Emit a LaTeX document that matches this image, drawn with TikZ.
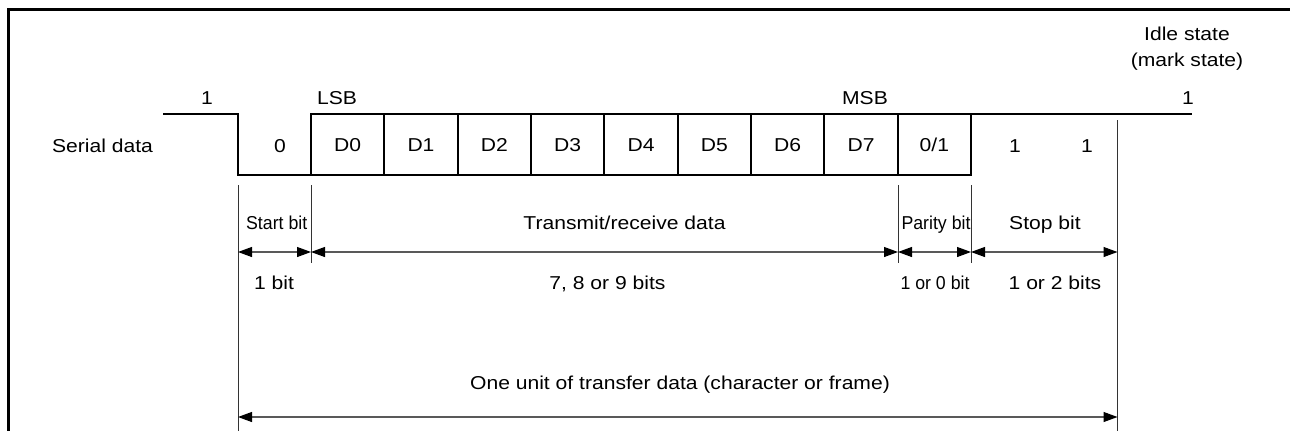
\documentclass[tikz,border=0pt]{standalone}
\usepackage{fontspec}
\setmainfont{Liberation Sans}[FakeStretch=1.13]
\newfontfamily\narrowfont{Liberation Sans}[FakeStretch=0.95]
\usetikzlibrary{arrows.meta}
\begin{document}
\begin{tikzpicture}[x=0.75pt,y=-0.75pt,
  lbl/.style={anchor=base, inner sep=0pt, font=\fontsize{14}{18.75}\selectfont},
  nlbl/.style={anchor=base, inner sep=0pt, font=\fontsize{14}{18.75}\selectfont\narrowfont},
  bitbox/.style={draw, line width=1.5pt, minimum width=55pt, minimum height=45.75pt,
    inner sep=0pt, outer sep=0pt, text height=10pt, text depth=0pt, font=\fontsize{14}{18.75}\selectfont},
  sig/.style={line width=1.5pt, line join=miter},
  guide/.style={line width=0.75pt, black!80},
  dim/.style={line width=0.8pt, black!65,
    {Triangle[length=10.5pt,width=7.5pt,color=black]}-{Triangle[length=10.5pt,width=7.5pt,color=black]}},
  frame/.style={line width=2.25pt}]
\useasboundingbox (0,0) rectangle (1290,430);

% frame
\coordinate (fbl) at (8.5,431);
\coordinate (ftl) at (8.5,9.5);
\coordinate (ftr) at (1291,9.5);
\draw[frame] (fbl) -- (ftl) -- (ftr);

% data boxes
\foreach \i/\t in {0/D0,1/D1,2/D2,3/D3,4/D4,5/D5,6/D6,7/D7,8/{0/1}}
  \node[bitbox] (b\i) at ({311+73.333*(\i+0.5)},144.5) {\t};

% waveform
\coordinate (idleL) at (163,114);
\coordinate (fallT) at (238,114);
\coordinate (fallB) at (238,175);
\coordinate (idleR) at (1192,114);
\draw[sig] (idleL) -- (fallT) -- (fallB) -- (b0.south west) -- (b0.north west);
\draw[sig] (b8.north east) -- (idleR);

% guide lines
\coordinate (gA1) at (238,185);  \coordinate (gA2) at (238,431);
\coordinate (gB1) at (311,185);  \coordinate (gB2) at (311,262.5);
\coordinate (gC1) at (898,185);  \coordinate (gC2) at (898,262.5);
\coordinate (gD1) at (971,185);  \coordinate (gD2) at (971,262.5);
\coordinate (gE1) at (1117.5,120); \coordinate (gE2) at (1117.5,431);
\draw[guide] (gA1) -- (gA2);
\draw[guide] (gB1) -- (gB2);
\draw[guide] (gC1) -- (gC2);
\draw[guide] (gD1) -- (gD2);
\draw[guide] (gE1) -- (gE2);

% dimension arrows
\coordinate (dA) at (238,252);
\coordinate (dB) at (311,252);
\coordinate (dC) at (898,252);
\coordinate (dD) at (971,252);
\coordinate (dE) at (1117.5,252);
\coordinate (uA) at (238,417);
\coordinate (uE) at (1117.5,417);
\draw[dim] (dA) -- (dB);
\draw[dim] (dB) -- (dC);
\draw[dim] (dC) -- (dD);
\draw[dim] (dD) -- (dE);
\draw[dim] (uA) -- (uE);

% labels
\node[lbl] (hiL) at (207,104) {1};
\node[lbl] (lsb) at (337,104) {LSB};
\node[lbl] (msb) at (865,104) {MSB};
\node[lbl] (hiR) at (1188,104) {1};
\node[lbl] (idle1) at (1187,40) {Idle state};
\node[lbl] (idle2) at (1187,66) {(mark state)};
\node[lbl] (serial) at (102.5,152) {Serial data};
\node[lbl] (startv) at (280,152) {0};
\node[lbl] (stop1) at (1015,152) {1};
\node[lbl] (stop2) at (1087,152) {1};

\node[nlbl] (startl) at (276.7,229) {Start bit};
\node[lbl] (datal) at (624.5,229) {Transmit/receive data};
\node[nlbl] (parl) at (936,229) {Parity bit};
\node[lbl] (stopl) at (1045,229) {Stop bit};

\node[lbl] (startn) at (274,289) {1 bit};
\node[lbl] (datan) at (607.5,289) {7, 8 or 9 bits};
\node[nlbl] (parn) at (935,289) {1 or 0 bit};
\node[lbl] (stopn) at (1055,289) {1 or 2 bits};

\node[lbl] (unit) at (680,389) {One unit of transfer data (character or frame)};
\end{tikzpicture}
\end{document}
